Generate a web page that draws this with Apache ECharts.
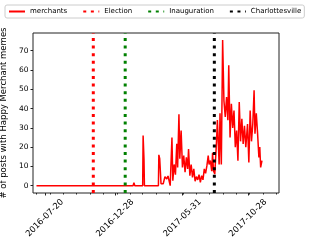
<!DOCTYPE html>
<html>
<head>
<meta charset="utf-8">
<script src="https://cdn.jsdelivr.net/npm/echarts@6/dist/echarts.min.js"></script>
<style>
html,body{margin:0;padding:0;background:#fff;}
#c{width:312px;height:246px;}
</style>
</head>
<body>
<div id="c"></div>
<script>
// ---- data ----
const dates = [
  '2016-07-01','2017-02-07','2017-02-09','2017-02-11','2017-03-01','2017-03-02','2017-03-04','2017-03-05',
  '2017-04-06','2017-04-07','2017-04-09','2017-04-12','2017-04-17','2017-04-21','2017-04-25','2017-04-28',
  '2017-05-01','2017-05-03','2017-05-07','2017-05-09','2017-05-12','2017-05-15','2017-05-18','2017-05-20',
  '2017-05-23','2017-05-25','2017-05-28','2017-05-31','2017-06-03','2017-06-06','2017-06-09','2017-06-12',
  '2017-06-14','2017-06-17','2017-06-20','2017-06-23','2017-06-26','2017-06-29','2017-07-02','2017-07-05',
  '2017-07-08','2017-07-11','2017-07-14','2017-07-17','2017-07-20','2017-07-23','2017-07-26','2017-07-29',
  '2017-07-31','2017-08-03','2017-08-06','2017-08-08','2017-08-10','2017-08-13','2017-08-17','2017-08-19',
  '2017-08-23','2017-08-25','2017-08-28','2017-08-31','2017-09-03','2017-09-06','2017-09-09','2017-09-12',
  '2017-09-14','2017-09-17','2017-09-20','2017-09-23','2017-09-26','2017-09-29','2017-10-02','2017-10-05',
  '2017-10-08','2017-10-11','2017-10-14','2017-10-17','2017-10-20','2017-10-23','2017-10-27','2017-10-30',
  '2017-11-02','2017-11-05','2017-11-08','2017-11-11','2017-11-13','2017-11-16','2017-11-19','2017-11-22',
  '2017-11-24','2017-11-26','2017-11-29'
];
const merchants = [
  0,0,1.5,0,0,26,14,0,
  0,16,14,1,1,4.7,3.5,5,
  5.7,0,25,2.6,11,5.7,21.7,9.5,
  37,14,28.6,9.5,15.6,7,14.7,8.7,
  19,5.2,11,4.3,8.7,2.3,4.7,3,
  5.7,1.7,5.2,3,8.7,6.4,10.4,15.6,
  11,13,7.5,17,7.8,6,23,34,
  11,37.5,11,75.5,44,35.6,46,34,
  62.5,25,42.5,30,39,20,28.6,13,
  43.4,23,34.7,21.7,31,20,32,12,
  39,23,32,49.5,27,37.5,27,14.7,
  20,9.5,13
];
const eventNames = ['Election', 'Inauguration', 'Charlottesville'];
const eventDates = ['2016-11-08', '2017-01-20', '2017-08-12'];
const eventColors = ['#ff0000', '#008000', '#000000'];
const xTickLabels = ['2016-07-20', '2016-12-28', '2017-05-31', '2017-10-28'];
const yTicks = [0, 10, 20, 30, 40, 50, 60, 70];
const xRange = ['2016-06-23', '2018-01-07'];
const yRange = [-3.8, 79.2];

// ---- helpers ----
function ts(s) { const p = s.split('-').map(Number); return Date.UTC(p[0], p[1] - 1, p[2]); }
function pad(n) { return (n < 10 ? '0' : '') + n; }
function fmt(v) { const d = new Date(v); return d.getUTCFullYear() + '-' + pad(d.getUTCMonth() + 1) + '-' + pad(d.getUTCDate()); }

const xMin = ts(xRange[0]), xMax = ts(xRange[1]);
const majorTicks = xTickLabels.map(ts);
const minorTicks = [];
for (let y = 2016, m = 6; y < 2018 || (y === 2018 && m === 0); ) {
  minorTicks.push(Date.UTC(y, m, 1));
  m++; if (m > 11) { m = 0; y++; }
}

const FONT = 'DejaVu Sans';
const series = [{
  name: 'merchants',
  type: 'line',
  xAxisIndex: 0,
  symbol: 'none',
  data: dates.map((d, i) => [ts(d), merchants[i]]),
  lineStyle: { color: '#ff0000', width: 1.5 },
  itemStyle: { color: '#ff0000' },
  z: 2
}];
eventNames.forEach((n, i) => {
  series.push({
    name: n,
    type: 'line',
    xAxisIndex: 0,
    symbol: 'none',
    data: [[ts(eventDates[i]), yRange[0]], [ts(eventDates[i]), yRange[1]]],
    lineStyle: { color: eventColors[i], width: 3, type: [3, 4.6] },
    itemStyle: { color: eventColors[i] },
    z: 3
  });
});

const chart = echarts.init(document.getElementById('c'), null, { renderer: 'canvas' });
chart.setOption({
  animation: false,
  textStyle: { fontFamily: FONT },
  legend: {
    left: 5, top: 5,
    width: 300,
    padding: [3, 3, 3, 3],
    itemGap: 15,
    itemWidth: 16,
    itemHeight: 6,
    borderColor: '#cccccc',
    borderWidth: 1,
    borderRadius: 2,
    itemStyle: { color: 'rgba(0,0,0,0)', borderWidth: 0 },
    textStyle: { fontFamily: FONT, fontSize: 7, color: '#000' },
    data: ['merchants'].concat(eventNames)
  },
  grid: {
    left: 33, right: 33, top: 33, bottom: 53,
    show: true, borderColor: '#222', borderWidth: 1,
    containLabel: false, outerBoundsMode: 'none'
  },
  xAxis: [{
    type: 'value',
    min: xMin, max: xMax,
    axisLine: { show: false, onZero: false },
    splitLine: { show: false },
    axisTick: { show: true, length: 2.5, customValues: majorTicks, lineStyle: { color: '#222' } },
    axisLabel: {
      customValues: majorTicks,
      formatter: v => fmt(v),
      rotate: 45,
      align: 'center',
      verticalAlign: 'middle',
      margin: 25,
      fontFamily: FONT, fontSize: 8.5, color: '#000',
      showMinLabel: true, showMaxLabel: true
    }
  }, {
    type: 'value',
    min: xMin, max: xMax,
    position: 'bottom',
    axisLine: { show: false, onZero: false },
    splitLine: { show: false },
    axisTick: { show: true, length: 1.5, customValues: minorTicks, lineStyle: { color: '#222' } },
    axisLabel: { show: false }
  }],
  yAxis: {
    type: 'value',
    min: yRange[0], max: yRange[1],
    axisLine: { show: false, onZero: false },
    splitLine: { show: false },
    axisTick: { show: true, length: 2.5, customValues: yTicks, lineStyle: { color: '#222' } },
    axisLabel: { customValues: yTicks, margin: 4.5, fontFamily: FONT, fontSize: 7.5, color: '#000' },
    name: '# of posts with Happy Merchant memes',
    nameLocation: 'middle',
    nameGap: 25,
    nameTextStyle: { fontFamily: FONT, fontSize: 8.5, color: '#000' }
  },
  series: series
});
</script>
</body>
</html>
